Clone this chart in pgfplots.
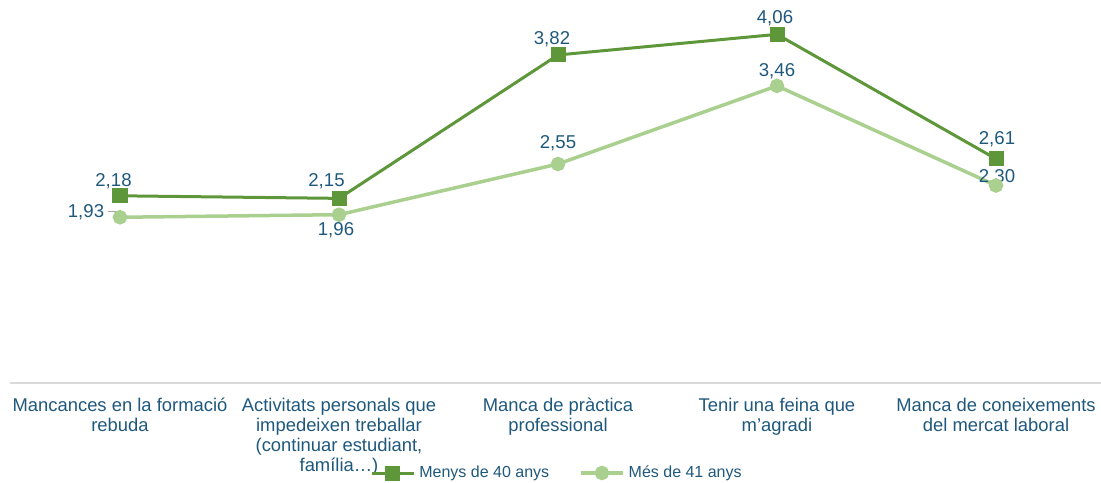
\documentclass[border=0pt]{standalone}
\usepackage{fontspec}
\setmainfont{Liberation Sans}
\usepackage{pgfplots}
\pgfplotsset{compat=1.18}
\definecolor{darkgr}{RGB}{94,150,58}
\definecolor{lightgr}{RGB}{169,208,142}
\definecolor{lbl}{RGB}{30,88,124}
\definecolor{axgray}{RGB}{217,217,217}

\begin{document}
\begin{tikzpicture}
  \begin{axis}[
      name=ax,
      scale only axis,
      width=547.5pt, height=191.5pt,
      xmin=-0.5, xmax=4.5,
      ymin=0, ymax=4.46,
      axis line style={draw=none},
      ytick=\empty,
      xtick={0,1,2,3,4},
      xticklabels={
        {Mancances en la formació\\rebuda},
        {Activitats personals que\\impedeixen treballar\\(continuar estudiant,\\família…)},
        {Manca de pràctica\\professional},
        {Tenir una feina que\\m’agradi},
        {Manca de coneixements\\del mercat laboral}},
      major tick length=0pt,
      xticklabel style={align=center, anchor=north, yshift=-4pt,
        text=lbl, font=\fontsize{9.2}{10}\selectfont},
      clip=false,
      legend columns=2,
      legend style={draw=none, fill=none, at={(0.5,-0.235)}, anchor=center,
        font=\fontsize{8}{9}\selectfont, text=lbl,
        /tikz/every even column/.append style={column sep=13pt}},
      legend image code/.code={
        \draw[#1, mark=none] (0pt,0pt) -- (21pt,0pt);
        \draw[#1, only marks] plot coordinates {(10.5pt,0pt)};
      },
    ]
    \draw[axgray, line width=0.8pt] (rel axis cs:0,0) -- (rel axis cs:1,0);

    \addplot[darkgr, line width=1.5pt, mark=square*, mark size=3pt] coordinates {
      (0,2.18) (1,2.15) (2,3.82) (3,4.06) (4,2.61)
    };
    \addlegendentry{Menys de 40 anys}
    \addplot[lightgr, line width=1.75pt, mark=*, mark size=2.75pt] coordinates {
      (0,1.93) (1,1.96) (2,2.55) (3,3.46) (4,2.30)
    };
    \addlegendentry{Més de 41 anys}

    \begin{scope}[every node/.style={text=lbl, font=\fontsize{9.3}{10}\selectfont, inner sep=1pt}]
      \node at ([xshift=-3.25pt,yshift=7.5pt]axis cs:0,2.18) {2,18};
      \node at ([xshift=-6.25pt,yshift=8.5pt]axis cs:1,2.15) {2,15};
      \node at ([xshift=-3pt,yshift=8pt]axis cs:2,3.82) {3,82};
      \node at ([xshift=-1pt,yshift=8pt]axis cs:3,4.06) {4,06};
      \node at ([xshift=0.5pt,yshift=10pt]axis cs:4,2.61) {2,61};
      \node at ([xshift=-17pt,yshift=2.5pt]axis cs:0,1.93) {1,93};
      \node at ([xshift=-1.5pt,yshift=-8pt]axis cs:1,1.96) {1,96};
      \node at ([xshift=0pt,yshift=10.5pt]axis cs:2,2.55) {2,55};
      \node at ([xshift=0pt,yshift=7.5pt]axis cs:3,3.46) {3,46};
      \node at ([xshift=0.5pt,yshift=4pt]axis cs:4,2.30) {2,30};
    \end{scope}
    \draw[gray!70, line width=0.4pt] ([xshift=-6pt,yshift=3pt]axis cs:0,1.93) -- ([xshift=-1.5pt,yshift=3pt]axis cs:0,1.93) -- ([xshift=-1.5pt,yshift=1.5pt]axis cs:0,1.93);
  \end{axis}
  \pgfresetboundingbox
  \path ([xshift=-5.25pt,yshift=-49.5pt]ax.south west) rectangle ([xshift=545.25pt]ax.north west);
\end{tikzpicture}
\end{document}
